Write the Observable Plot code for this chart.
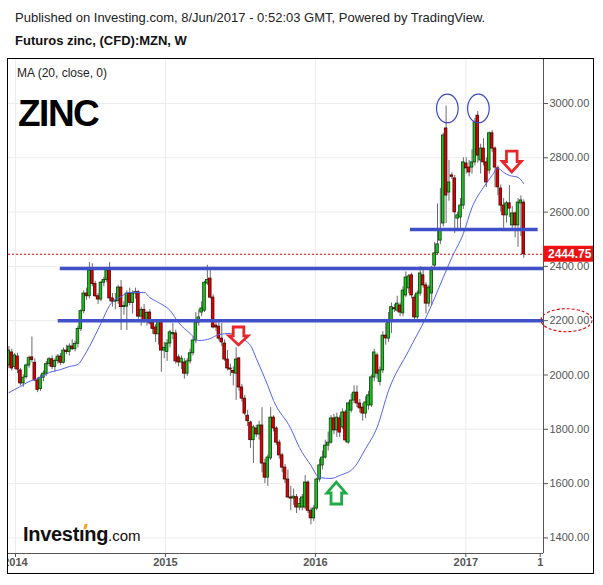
<!DOCTYPE html>
<html><head><meta charset="utf-8">
<script src="https://cdn.jsdelivr.net/npm/d3@7"></script>
<script src="https://cdn.jsdelivr.net/npm/@observablehq/plot@0.6"></script>
<style>
body{margin:0;background:#fff;font-family:"Liberation Sans",Arial,sans-serif;}
#page{position:relative;width:603px;height:585px;overflow:hidden;background:#fff;}
.abs{position:absolute;white-space:nowrap;}
#frame{position:absolute;left:7px;top:58px;width:587px;height:516px;border:1px solid #000;box-sizing:border-box;overflow:hidden;}
#frame svg{position:absolute;left:-8px;top:-59px;width:603px !important;height:585px !important;max-width:none !important;}
</style></head><body>
<div id="page">
<div class="abs" style="left:15px;top:10px;font-size:13px;color:#222">Published on Investing.com, 8/Jun/2017 - 0:52:03 GMT, Powered by TradingView.</div>
<div class="abs" style="left:15px;top:33px;font-size:13px;font-weight:bold;color:#111">Futuros zinc, (CFD):MZN, W</div>
<div id="frame"></div>
<div class="abs" style="left:17px;top:66px;font-size:12px;color:#222">MA (20, close, 0)</div>
<div class="abs" style="left:18px;top:95px;font-size:37px;line-height:1;font-weight:bold;color:#000;letter-spacing:-1.5px">ZINC</div>
<div class="abs" style="left:23px;top:524px;font-size:20px;line-height:1;font-weight:bold;color:#111;letter-spacing:-0.3px">Investıng<span style="font-size:15px;font-weight:normal;letter-spacing:0">.com</span></div>
<div class="abs" style="left:84px;top:524px;width:3px;height:5px;background:#f7a21b;transform:skewX(-15deg)"></div>
</div>
<script>
// ---- weekly candles (Futuros zinc, weekly) ----
const opens = [
2035,2083,2030,2068,2017,1969,1992,2035,2065,2045,
1980,1948,1990,2005,2040,2058,2030,2052,2068,2045,
2090,2085,2105,2095,2115,2170,2235,2300,2290,2385,
2335,2290,2278,2340,2350,2385,2282,2270,2272,2322,
2250,2252,2300,2265,2300,2305,2215,2240,2200,2230,
2193,2175,2150,2200,2090,2085,2116,2150,2153,2065,
2046,2046,2005,2050,2080,2127,2193,2230,2237,2337,
2355,2285,2182,2178,2134,2116,2057,2024,2015,2005,
2061,1954,1913,1850,1825,1760,1803,1781,1814,1674,
1622,1693,1843,1803,1751,1704,1659,1615,1549,1545,
1550,1512,1512,1512,1604,1500,1472,1508,1615,1667,
1696,1740,1751,1840,1796,1840,1807,1862,1751,1869,
1906,1935,1895,1880,1858,1888,1888,1991,2072,1975,
2017,2145,2134,2200,2245,2237,2256,2227,2293,2319,
2367,2285,2212,2300,2367,2330,2263,2300,2403,2448,
2495,2558,2908,2672,2735,2724,2576,2580,2624,2779,
2764,2764,2783,2955,2790,2834,2783,2753,2890,2834,
2761,2687,2624,2588,2632,2551,2595,2551,2632,2635];
const highs = [
2105,2095,2080,2080,2025,2000,2040,2070,2140,2060,
1990,2000,2015,2050,2065,2070,2060,2075,2080,2100,
2110,2115,2130,2125,2180,2240,2310,2320,2414,2410,
2345,2300,2345,2360,2395,2414,2300,2300,2330,2348,
2270,2310,2320,2310,2320,2310,2250,2260,2235,2240,
2200,2185,2205,2205,2120,2130,2165,2190,2165,2075,
2070,2060,2060,2095,2140,2230,2240,2270,2345,2404,
2390,2295,2200,2200,2190,2130,2090,2040,2030,2100,
2065,1965,1925,1870,1830,1815,1815,1830,1880,1690,
1705,1880,1850,1810,1760,1712,1670,1650,1590,1580,
1560,1545,1560,1630,1610,1510,1520,1620,1690,1720,
1760,1790,1850,1855,1860,1850,1875,1870,1900,1930,
1960,1960,1910,1895,1920,1940,2000,2095,2080,2030,
2160,2190,2230,2265,2260,2290,2265,2325,2380,2370,
2375,2295,2310,2400,2385,2340,2330,2400,2488,2630,
2687,2890,2990,2790,2745,2735,2600,2650,2800,2800,
2790,2830,2945,2970,2850,2870,2800,2895,2900,2840,
2770,2700,2650,2640,2698,2620,2600,2650,2660,2645];
const lows = [
2024,2015,2020,2005,1960,1955,1985,2025,2045,1975,
1935,1940,1975,1995,2030,2020,2010,2040,2035,2040,
2075,2070,2090,2085,2100,2160,2225,2275,2280,2325,
2285,2260,2270,2325,2340,2270,2250,2240,2260,2164,
2220,2164,2255,2225,2280,2205,2180,2190,2180,2185,
2150,2120,2110,2010,2060,2050,2100,2130,2040,2030,
2020,1985,1995,2040,2070,2115,2180,2215,2230,2330,
2280,2170,2160,2125,2105,2050,2015,1995,1960,1906,
1940,1900,1850,1810,1730,1674,1770,1760,1640,1600,
1590,1685,1790,1740,1690,1640,1600,1545,1500,1520,
1490,1500,1500,1505,1490,1448,1460,1500,1605,1650,
1690,1720,1745,1780,1770,1770,1800,1750,1745,1860,
1895,1880,1860,1830,1840,1870,1880,1975,1985,1960,
2005,2110,2120,2153,2230,2230,2215,2215,2285,2300,
2280,2195,2205,2290,2320,2225,2250,2255,2395,2440,
2480,2545,2558,2640,2720,2521,2540,2540,2610,2740,
2730,2740,2770,2780,2740,2770,2690,2740,2820,2690,
2660,2600,2540,2560,2580,2530,2505,2470,2510,2430];
const closes = [
2090,2024,2072,2020,1969,1990,2035,2062,2055,1980,
1945,1990,2005,2040,2058,2030,2052,2068,2045,2090,
2085,2105,2095,2115,2170,2235,2300,2290,2385,2335,
2290,2278,2340,2350,2385,2282,2270,2272,2322,2250,
2252,2300,2265,2300,2305,2215,2240,2200,2228,2190,
2170,2150,2195,2090,2100,2116,2157,2155,2050,2046,
2060,2005,2050,2080,2127,2193,2212,2245,2340,2350,
2285,2175,2175,2134,2120,2057,2024,2020,2008,2057,
1954,1913,1858,1830,1760,1807,1781,1814,1674,1622,
1696,1843,1803,1751,1704,1659,1615,1549,1545,1552,
1512,1525,1549,1604,1500,1472,1508,1615,1667,1696,
1740,1751,1840,1796,1843,1788,1862,1759,1895,1906,
1935,1895,1877,1858,1899,1925,1991,2083,2005,2017,
2145,2135,2193,2250,2242,2263,2230,2311,2359,2363,
2293,2212,2300,2374,2330,2263,2322,2385,2448,2481,
2532,2882,2661,2709,2730,2599,2588,2624,2783,2761,
2746,2783,2930,2808,2834,2783,2709,2890,2834,2764,
2691,2624,2588,2632,2613,2595,2551,2635,2643,2444.75];

// ---- MA (20, close): week index / value ----
const maWeek = [0,4,7,11,14,18,21,24,26,28,32,35,39,42,47,49,52,56,59,63,66,70,73,77,80,84,86,90,92,98,101,105,108,112,115,120,124,128,132,139,145,151,154,158,161,165,168,170,172,174,177,179];
const maValue = [1935,1958,1976,1991,2009,2020,2031,2039,2068,2105,2190,2256,2289,2304,2304,2285,2267,2238,2193,2153,2127,2134,2149,2153,2138,2109,2061,1961,1906,1803,1733,1667,1622,1619,1630,1659,1729,1807,1943,2090,2212,2359,2433,2521,2617,2691,2735,2761,2746,2735,2728,2705];

// ---- axes ----
const yTicks = [1400,1600,1800,2000,2200,2400,2600,2800,3000];
const xTickDates = ["2014-01-01","2015-01-01","2016-01-01","2017-01-01","2017-07-01"];
const xTickLabels = ["2014","2015","2016","2017","1"];

// ---- drawn levels and annotations ----
const levelPrice = [2392, 2200, 2536];
const levelFrom = ["2014-04-20","2014-04-15","2016-08-19"];
const levelTo = ["2017-07-09","2017-07-09","2017-06-26"];
const lastPrice = 2444.75;
const peakWeek = [152.6, 163.4];
const peakPrice = [2980, 2980];
const downArrowWeek = [80, 175];
const downArrowTop = [2175, 2823];
const downArrowBottom = [2109, 2746];
const upArrowWeek = [114];
const upArrowTop = [1604];
const upArrowBottom = [1523];
const circledLabel = 2200;

const DAY = 864e5;
const start = Date.UTC(2013, 11, 16);
const weekDate = i => new Date(start + i * 7 * DAY);
const xDomain = [new Date("2013-12-15"), new Date("2017-07-09")];
const yDomain = [1342.6, 3162];

const candles = closes.map((c, i) => {
  const o = opens[i];
  let lo = Math.min(o, c), hi = Math.max(o, c);
  if (hi - lo < 4) hi = lo + 4;
  return {date: weekDate(i), open: o, high: highs[i], low: lows[i], close: c, lo, hi, up: c >= o};
});
const ma = maWeek.map((w, i) => ({date: weekDate(w), value: maValue[i]}));
const levels = levelPrice.map((p, i) => ({price: p, from: new Date(levelFrom[i]), to: new Date(levelTo[i])}));
const xTicks = xTickDates.map(d => new Date(d));
const labelMap = new Map(xTicks.map((d, i) => [+d, xTickLabels[i]]));

const chart = Plot.plot({
  width: 603, height: 585,
  marginLeft: 8, marginRight: 60, marginTop: 59, marginBottom: 32,
  style: {fontFamily: "Liberation Sans, Arial, sans-serif", fontSize: "11px", background: "transparent", maxWidth: "none"},
  x: {type: "utc", domain: xDomain},
  y: {domain: yDomain},
  color: {type: "identity"},
  marks: [
    Plot.ruleY(yTicks, {stroke: "#ececec"}),
    Plot.ruleX(xTicks.slice(0, 4), {stroke: "#ececec"}),
    Plot.ruleY([lastPrice], {stroke: "#d40000", strokeDasharray: "2,2", strokeWidth: 1}),
    Plot.ruleX(candles, {x: "date", y1: "low", y2: "high", stroke: "#6a6a6a", strokeWidth: 1}),
    Plot.rect(candles, {
      x1: d => new Date(+d.date - 3.2 * DAY), x2: d => new Date(+d.date + 3.2 * DAY),
      y1: "lo", y2: "hi",
      fill: d => d.up ? "#1ec21e" : "#e00000",
      stroke: d => d.up ? "#0b3b0b" : "#4a0000", strokeWidth: 0.8
    }),
    Plot.line(ma, {x: "date", y: "value", stroke: "#5262f2", strokeWidth: 1, curve: "monotone-x"}),
    Plot.ruleY(levels, {y: "price", x1: "from", x2: "to", stroke: "#4050c8", strokeWidth: 3.5}),
    Plot.ruleX([xDomain[1]], {stroke: "#555"}),
    Plot.ruleY([yDomain[0]], {stroke: "#555"}),
    Plot.axisY(yTicks, {anchor: "right", tickSize: 4, tickPadding: 2, tickFormat: d3.format(".2f"), color: "#555", fontSize: 11, label: null}),
    Plot.axisX(xTicks, {anchor: "bottom", tickSize: 4, tickPadding: 1, tickFormat: d => labelMap.get(+d), color: "#555", fontSize: 11, fontWeight: "bold", label: null})
  ]
});
document.getElementById("frame").appendChild(chart);

const X = chart.scale("x"), Y = chart.scale("y");
const svg = d3.select(chart);
const g = svg.append("g");
const xr = X.apply(xDomain[1]);

// price label
const yl = Y.apply(lastPrice);
g.append("rect").attr("x", xr).attr("y", yl - 8).attr("width", 50).attr("height", 16).attr("fill", "#ee1111");
g.append("text").attr("x", xr + 5).attr("y", yl + 4.5).attr("text-anchor", "start").attr("fill", "#fff")
  .attr("font-weight", "bold").attr("font-size", 12).text(lastPrice.toFixed(2));

// dashed ellipse around 2200 label
g.append("ellipse").attr("cx", xr + 23.5).attr("cy", Y.apply(circledLabel)).attr("rx", 25.5).attr("ry", 11.5)
  .attr("fill", "none").attr("stroke", "#e00000").attr("stroke-dasharray", "3,2").attr("stroke-width", 1.1);

// peak circles
peakWeek.forEach((w, i) => {
  g.append("ellipse").attr("cx", X.apply(weekDate(w))).attr("cy", Y.apply(peakPrice[i])).attr("rx", 10.8).attr("ry", 14.3)
    .attr("fill", "none").attr("stroke", "#3a48c8").attr("stroke-width", 1.2);
});

// arrows
function arrowPath(cx, tip, base, headY) {
  return `M${cx - 5.3},${base} L${cx + 5.3},${base} L${cx + 5.3},${headY} L${cx + 9.5},${headY} L${cx},${tip} L${cx - 9.5},${headY} L${cx - 5.3},${headY} Z`;
}
downArrowWeek.forEach((w, i) => {
  const cx = X.apply(weekDate(w)), top = Y.apply(downArrowTop[i]), bot = Y.apply(downArrowBottom[i]);
  g.append("path").attr("d", arrowPath(cx, bot, top, top + (bot - top) * 0.5))
    .attr("fill", "#fff").attr("stroke", "#e8262b").attr("stroke-width", 2.8).attr("stroke-linejoin", "miter");
});
upArrowWeek.forEach((w, i) => {
  const cx = X.apply(weekDate(w)), top = Y.apply(upArrowTop[i]), bot = Y.apply(upArrowBottom[i]);
  g.append("path").attr("d", arrowPath(cx, top, bot, top + (bot - top) * 0.5))
    .attr("fill", "#fff").attr("stroke", "#20aa48").attr("stroke-width", 2.8).attr("stroke-linejoin", "miter");
});
</script>
</body></html>
